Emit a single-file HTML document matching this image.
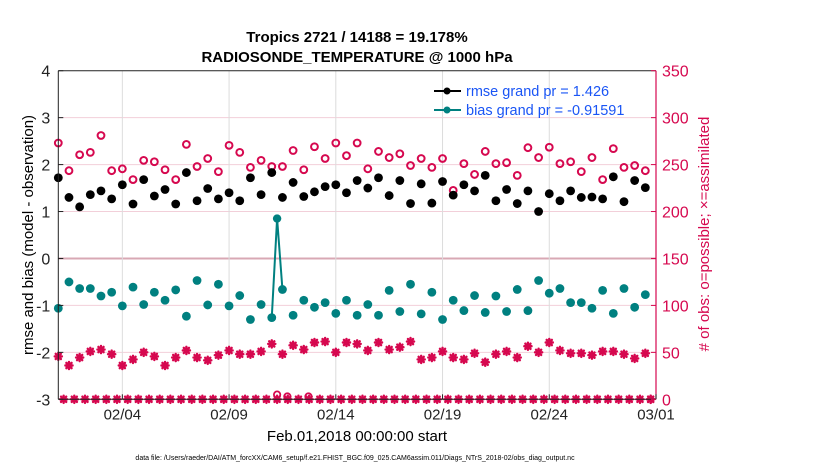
<!DOCTYPE html>
<html><head><meta charset="utf-8">
<style>
body{margin:0;background:#fff;}
svg{display:block;font-family:"Liberation Sans",sans-serif;}
</style></head>
<body>
<svg id="chart" width="830" height="470" viewBox="0 0 830 470">
<rect x="0" y="0" width="830" height="470" fill="#fff"/>
<text x="357" y="42" text-anchor="middle" font-size="15" font-weight="bold">Tropics 2721 / 14188 = 19.178%</text>
<text x="357" y="62" text-anchor="middle" font-size="15" font-weight="bold">RADIOSONDE_TEMPERATURE @ 1000 hPa</text>
<g id="grid"></g>
<g id="marks"></g>
<g id="axes"></g>
<text transform="translate(33,235) rotate(-90)" text-anchor="middle" font-size="15">rmse and bias (model - observation)</text>
<text transform="translate(709,234) rotate(-90)" text-anchor="middle" font-size="15" fill="#d6084f"># of obs: o=possible; ×=assimilated</text>
<text x="357" y="441" text-anchor="middle" font-size="15">Feb.01,2018 00:00:00 start</text>
<text x="355" y="460" text-anchor="middle" font-size="7">data file: /Users/raeder/DAI/ATM_forcXX/CAM6_setup/f.e21.FHIST_BGC.f09_025.CAM6assim.011/Diags_NTrS_2018-02/obs_diag_output.nc</text>
<g>
<line x1="434" y1="91" x2="461" y2="91" stroke="#000" stroke-width="2"/>
<circle cx="447" cy="91" r="3.5" fill="#000"/>
<text x="466" y="96" font-size="14.5" fill="#1a55f5">rmse grand pr = 1.426</text>
<line x1="434" y1="110" x2="461" y2="110" stroke="#008080" stroke-width="2"/>
<circle cx="447" cy="110" r="3.5" fill="#008080"/>
<text x="466" y="115" font-size="14.5" fill="#1a55f5">bias grand pr = -0.91591</text>
</g>
</svg>
<script>
const rmseVals=[1.72,1.30,1.10,1.36,1.44,1.27,1.57,1.16,1.68,1.33,1.47,1.16,1.83,1.23,1.49,1.27,1.40,1.23,1.72,1.36,1.83,1.30,1.62,1.32,1.42,1.53,1.57,1.40,1.66,1.50,1.72,1.34,1.66,1.17,1.59,1.18,1.64,1.35,1.57,1.44,1.77,1.23,1.47,1.17,1.44,1.00,1.38,1.23,1.44,1.30,1.31,1.27,1.74,1.21,1.66,1.51];
const biasVals=[-1.06,-0.50,-0.64,-0.64,-0.80,-0.72,-1.01,-0.61,-0.98,-0.72,-0.89,-0.67,-1.23,-0.47,-0.99,-0.55,-1.01,-0.79,-1.30,-0.98,-1.26,-0.66,-1.21,-0.89,-1.04,-0.94,-1.17,-0.89,-1.21,-0.98,-1.21,-0.68,-1.13,-0.55,-1.18,-0.72,-1.30,-0.89,-1.11,-0.79,-1.15,-0.80,-1.13,-0.66,-1.11,-0.47,-0.74,-0.64,-0.94,-0.94,-1.06,-0.68,-1.17,-0.64,-1.04,-0.77];
const spikeDays=[10.0,10.25,10.5];
const spikeVals=[-1.26,0.85,-0.66];
const possibleVals=[273,243.5,260.5,263,281,243.5,245.5,234,254.5,253,244.5,234,271.5,248,256.5,242.5,270.5,263,247,254.5,248,248,265,244.5,269,256.5,273,259.5,273,245.5,264,257.5,261.5,249,256.5,247,256.5,222.5,251,239.5,264,251,252,238.5,268,257.5,268.5,251,253,242.5,257.5,234,267,247,249,243.5];
const assimVals=[45.7,36,44.5,51,53,48,36,42.5,50,45.7,36,44.5,52,44.5,41.5,47,52,48,48,51,59,48,57.5,53,60.5,61.5,50,60.5,59,52,60.5,53,55.5,61.5,42.5,44.5,51,44.5,42.5,49,39.5,48,51,44.5,56.5,50,60.5,52,49,49,47,51,51,48,43.5,49];
const smallPossDays=[10.25,10.73,11.72];
const smallPossVals=[5,3,3];
const xTickDays=[3,8,13,18,23,28];
const xTickLabels=["02/04","02/09","02/14","02/19","02/24","03/01"];
const yTicksLeft=[-3,-2,-1,0,1,2,3,4];
const yTicksRight=[0,50,100,150,200,250,300,350];

const X0=58.3,X1=656,Y0=70.7,Y1=399.3;
const xs=d=>X0+(X1-X0)*d/28;
const yl=v=>Y0+(4-v)*(Y1-Y0)/7;
const yr=c=>Y1-(Y1-Y0)*c/350;
const dayOf=i=>i*0.5;
const NS="http://www.w3.org/2000/svg";
function mk(tag,attrs,parent){const e=document.createElementNS(NS,tag);for(const k in attrs)e.setAttribute(k,attrs[k]);parent.appendChild(e);return e;}
const grid=document.getElementById('grid'),marks=document.getElementById('marks'),axes=document.getElementById('axes');
const PINK="#d6084f";

yTicksLeft.forEach(v=>{
  if(v===-3||v===4)return;
  const g=mk('line',{x1:X0,x2:X1,y1:yl(v),y2:yl(v),stroke:v===0?"#d8a8b4":"#f2cfd9","stroke-width":v===0?2:1},grid);
  
  
});
xTickDays.forEach(d=>{
  const g=mk('line',{x1:xs(d),x2:xs(d),y1:Y0,y2:Y1,stroke:"#dcdcdc","stroke-width":1},grid);
  
  
});

mk('line',{x1:X0,x2:X1,y1:Y0,y2:Y0,stroke:"#222","stroke-width":1},axes);
mk('line',{x1:X0,x2:X1,y1:Y1,y2:Y1,stroke:"#222","stroke-width":1},axes);
mk('line',{x1:X0,x2:X0,y1:Y0,y2:Y1,stroke:"#222","stroke-width":1},axes);
mk('line',{x1:X1,x2:X1,y1:Y0,y2:Y1,stroke:PINK,"stroke-width":1.2},axes);
yTicksLeft.forEach(v=>{
  mk('line',{x1:X0,x2:X0+5,y1:yl(v),y2:yl(v),stroke:"#222"},axes);
  const t=mk('text',{x:X0-8,y:yl(v)+6,"text-anchor":"end","font-size":16,fill:"#222"},axes);
  t.textContent=v;
  
  
});
yTicksRight.forEach(c=>{
  mk('line',{x1:X1,x2:X1-5,y1:yr(c),y2:yr(c),stroke:PINK},axes);
  const t=mk('text',{x:X1+6,y:yr(c)+6,"font-size":16,fill:PINK},axes);
  t.textContent=c;
  
  
});
xTickDays.forEach((d,i)=>{
  mk('line',{x1:xs(d),x2:xs(d),y1:Y1,y2:Y1-5,stroke:"#222"},axes);
  const t=mk('text',{x:xs(d),y:Y1+20,"text-anchor":"middle","font-size":15,fill:"#222"},axes);
  t.textContent=xTickLabels[i];
  
  
});

function star(cx,cy,name){
  const g=mk('g',{stroke:PINK,"stroke-width":2.4,"stroke-linecap":"round"},marks);
  
  
  const r=3.6;
  mk('line',{x1:cx-r,x2:cx+r,y1:cy,y2:cy},g);
  mk('line',{x1:cx,x2:cx,y1:cy-r,y2:cy+r},g);
  mk('line',{x1:cx-r*0.72,x2:cx+r*0.72,y1:cy-r*0.72,y2:cy+r*0.72},g);
  mk('line',{x1:cx-r*0.72,x2:cx+r*0.72,y1:cy+r*0.72,y2:cy-r*0.72},g);
}
for(let i=0;i<56;i++){star(xs(0.25+i*0.5),yr(0),'assimilated-zero-marker');}
star(xs(27.75),yr(0),'assimilated-zero-marker');
smallPossVals.forEach((c,i)=>{
  const e=mk('circle',{cx:xs(smallPossDays[i]),cy:yr(c),r:3.2,fill:"none",stroke:PINK,"stroke-width":1.8},marks);
  
  
});
possibleVals.forEach((c,i)=>{
  const e=mk('circle',{cx:xs(dayOf(i)),cy:yr(c),r:3.4,fill:"none",stroke:PINK,"stroke-width":2},marks);
  
  
});
assimVals.forEach((c,i)=>{star(xs(dayOf(i)),yr(c),'assimilated-count-marker');});
const pts=spikeVals.map((v,i)=>xs(spikeDays[i])+','+yl(v)).join(' ');
const pl=mk('polyline',{points:pts,fill:"none",stroke:"#008080","stroke-width":2},marks);


const sp=mk('circle',{cx:xs(spikeDays[1]),cy:yl(spikeVals[1]),r:4.2,fill:"#008080"},marks);


biasVals.forEach((v,i)=>{
  const e=mk('circle',{cx:xs(dayOf(i)),cy:yl(v),r:4.4,fill:"#008080"},marks);
  
  
});
rmseVals.forEach((v,i)=>{
  const e=mk('circle',{cx:xs(dayOf(i)),cy:yl(v),r:4.4,fill:"#000"},marks);
  
  
});
</script>
</body></html>
